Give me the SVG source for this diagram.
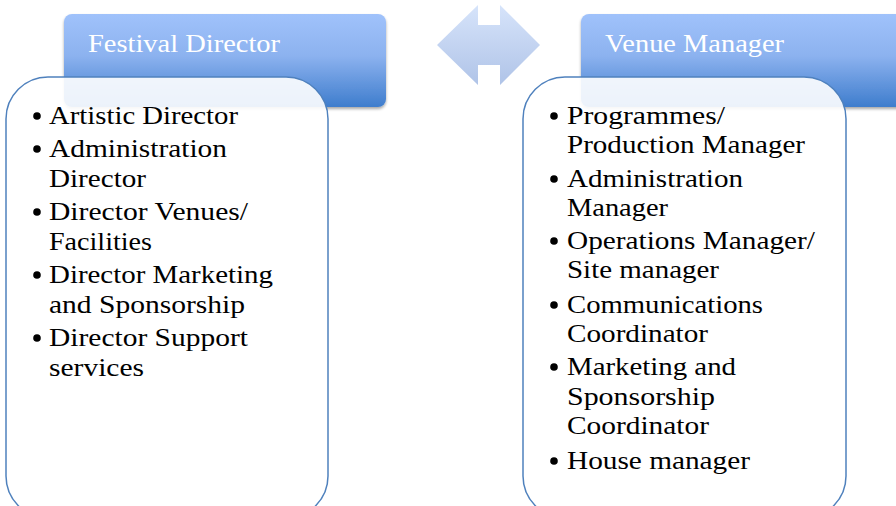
<svg xmlns="http://www.w3.org/2000/svg" width="896" height="506" viewBox="0 0 896 506">
  <defs>
    <linearGradient id="hdr" x1="0" y1="0" x2="0" y2="1">
      <stop offset="0" stop-color="#a0c2fb"/>
      <stop offset="0.45" stop-color="#8cb2ef"/>
      <stop offset="1" stop-color="#3f7dcd"/>
    </linearGradient>
    <linearGradient id="arr" x1="0" y1="0" x2="0" y2="1">
      <stop offset="0" stop-color="#d2e1fa"/>
      <stop offset="1" stop-color="#a7bde5"/>
    </linearGradient>
    <filter id="sh" x="-10%" y="-10%" width="120%" height="130%">
      <feGaussianBlur in="SourceAlpha" stdDeviation="1.5"/>
      <feOffset dx="0" dy="1.5" result="b"/>
      <feComponentTransfer><feFuncA type="linear" slope="0.35"/></feComponentTransfer>
      <feMerge><feMergeNode/><feMergeNode in="SourceGraphic"/></feMerge>
    </filter>
  </defs>
  <style>
    .hdr { fill: url(#hdr); filter: url(#sh); }
    .body { fill: #ffffff; fill-opacity: 0.9; stroke: #4f81bd; stroke-width: 1.5; }
    .ht { font-family: "Liberation Serif", "DejaVu Serif", serif; font-size: 26px; fill: #ffffff; }
    .t { font-family: "Liberation Serif", "DejaVu Serif", serif; font-size: 26px; fill: #000000; }
    .b { fill: #000000; }
  </style>
  <rect width="896" height="506" fill="#ffffff"/>

  <g id="connectors">
    <path d="M437,45 L478,5 L478,25 L500,25 L500,5 L540,45 L500,85 L500,65 L478,65 L478,85 Z" fill="url(#arr)" fill-opacity="0.9"/>
  </g>

  <g id="festival-director">
    <rect class="hdr" x="64" y="14" width="322" height="93" rx="8"/>
    <text class="ht" x="88" y="52" textLength="192" lengthAdjust="spacingAndGlyphs">Festival Director</text>
    <rect class="body" x="6" y="77" width="322" height="441" rx="42"/>
    <g class="b">
      <circle cx="37" cy="116" r="3.8"/>
      <circle cx="37" cy="149" r="3.8"/>
      <circle cx="37" cy="212" r="3.8"/>
      <circle cx="37" cy="275" r="3.8"/>
      <circle cx="37" cy="338" r="3.8"/>
    </g>
    <text class="t" x="49" y="124" textLength="189" lengthAdjust="spacingAndGlyphs">Artistic Director</text>
    <text class="t" x="49" y="157" textLength="178" lengthAdjust="spacingAndGlyphs">Administration</text>
    <text class="t" x="49" y="187" textLength="97" lengthAdjust="spacingAndGlyphs">Director</text>
    <text class="t" x="49" y="220" textLength="199" lengthAdjust="spacingAndGlyphs">Director Venues/</text>
    <text class="t" x="49" y="250" textLength="103" lengthAdjust="spacingAndGlyphs">Facilities</text>
    <text class="t" x="49" y="283" textLength="224" lengthAdjust="spacingAndGlyphs">Director Marketing</text>
    <text class="t" x="49" y="313" textLength="196" lengthAdjust="spacingAndGlyphs">and Sponsorship</text>
    <text class="t" x="49" y="346" textLength="199" lengthAdjust="spacingAndGlyphs">Director Support</text>
    <text class="t" x="49" y="376" textLength="95" lengthAdjust="spacingAndGlyphs">services</text>
  </g>

  <g id="venue-manager">
    <rect class="hdr" x="581" y="14" width="340" height="93" rx="8"/>
    <text class="ht" x="605" y="52" textLength="179" lengthAdjust="spacingAndGlyphs">Venue Manager</text>
    <rect class="body" x="523" y="77" width="323" height="441" rx="42"/>
    <g class="b">
      <circle cx="554" cy="116" r="3.8"/>
      <circle cx="554" cy="179" r="3.8"/>
      <circle cx="554" cy="241" r="3.8"/>
      <circle cx="554" cy="305" r="3.8"/>
      <circle cx="554" cy="367" r="3.8"/>
      <circle cx="554" cy="461" r="3.8"/>
    </g>
    <text class="t" x="567" y="124" textLength="158" lengthAdjust="spacingAndGlyphs">Programmes/</text>
    <text class="t" x="567" y="153" textLength="238" lengthAdjust="spacingAndGlyphs">Production Manager</text>
    <text class="t" x="567" y="187" textLength="176" lengthAdjust="spacingAndGlyphs">Administration</text>
    <text class="t" x="567" y="216" textLength="101" lengthAdjust="spacingAndGlyphs">Manager</text>
    <text class="t" x="567" y="249" textLength="248" lengthAdjust="spacingAndGlyphs">Operations Manager/</text>
    <text class="t" x="567" y="278" textLength="152" lengthAdjust="spacingAndGlyphs">Site manager</text>
    <text class="t" x="567" y="313" textLength="196" lengthAdjust="spacingAndGlyphs">Communications</text>
    <text class="t" x="567" y="342" textLength="141" lengthAdjust="spacingAndGlyphs">Coordinator</text>
    <text class="t" x="567" y="375" textLength="169" lengthAdjust="spacingAndGlyphs">Marketing and</text>
    <text class="t" x="567" y="405" textLength="148" lengthAdjust="spacingAndGlyphs">Sponsorship</text>
    <text class="t" x="567" y="434" textLength="142" lengthAdjust="spacingAndGlyphs">Coordinator</text>
    <text class="t" x="567" y="469" textLength="183" lengthAdjust="spacingAndGlyphs">House manager</text>
  </g>
</svg>
